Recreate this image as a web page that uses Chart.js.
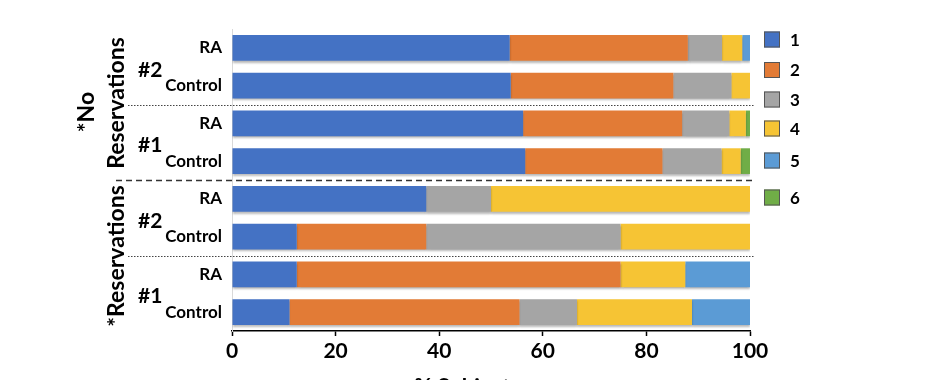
<!DOCTYPE html>
<html>
<head>
<meta charset="utf-8">
<script src="https://cdn.jsdelivr.net/npm/chart.js@4"></script>
<style>
html,body{margin:0;padding:0;background:#fff;overflow:hidden;}
#c{display:block;}
</style>
</head>
<body>
<canvas id="c" width="940" height="400"></canvas>
<script>
// ---- data ----
const categories = ['RA','Control','RA','Control','RA','Control','RA','Control'];
const groupLabels = ['#2','#1','#2','#1'];
const sectionLabels = [['*No','Reservations'],['*Reservations']];
const seriesNames = ['1','2','3','4','5','6'];
const s1 = [53.6, 53.8, 56.2, 56.6, 37.5, 12.5, 12.5, 11.1];
const s2 = [34.4, 31.4, 30.7, 26.5, 0, 25, 62.5, 44.4];
const s3 = [6.6, 11.2, 9.1, 11.4, 12.5, 37.5, 0, 11.1];
const s4 = [3.9, 3.6, 3.2, 3.7, 50, 25, 12.5, 22.2];
const s5 = [1.5, 0, 0, 0, 0, 0, 12.5, 11.2];
const s6 = [0, 0, 0.8, 1.8, 0, 0, 0, 0];
const xTicks = [0, 20, 40, 60, 80, 100];
const xTitle = '% Subjects';

const colors = ['#4472C4','#E27B36','#A5A5A5','#F6C434','#5B9BD5','#70AD47'];
const seriesData = [s1,s2,s3,s4,s5,s6];
const FONT = 'Lato, "Open Sans", sans-serif';

const decor = {
  id: 'decor',
  beforeDatasetsDraw(chart) {
    const ctx = chart.ctx;
    ctx.save();
    ctx.shadowColor = 'rgba(0,0,0,0.28)';
    ctx.shadowOffsetX = 0;
    ctx.shadowOffsetY = 2;
    ctx.shadowBlur = 2;
  },
  afterDatasetsDraw(chart) {
    chart.ctx.restore();
  },
  afterDraw(chart) {
    const ctx = chart.ctx;
    const y = chart.scales.y;
    const area = chart.chartArea;
    ctx.save();
    ctx.fillStyle = '#000';
    // category labels
    ctx.font = 'bold 17px ' + FONT;
    ctx.textAlign = 'right';
    ctx.textBaseline = 'middle';
    categories.forEach((c, i) => {
      ctx.fillText(c, area.left - 10, y.getPixelForValue(i));
    });
    // group labels
    ctx.font = 'bold 21px ' + FONT;
    ctx.textAlign = 'left';
    groupLabels.forEach((g, k) => {
      const yc = (y.getPixelForValue(2*k) + y.getPixelForValue(2*k+1)) / 2 + 3;
      ctx.fillText(g, 138, yc);
    });
    // separators
    const mid = (a) => (y.getPixelForValue(a) + y.getPixelForValue(a+1)) / 2;
    ctx.strokeStyle = '#444';
    ctx.lineWidth = 1.2;
    ctx.setLineDash([1.5, 1.5]);
    [1, 5].forEach(a => {
      const yy = Math.round(mid(a)) + 0.5;
      ctx.beginPath(); ctx.moveTo(128, yy); ctx.lineTo(755, yy); ctx.stroke();
    });
    ctx.strokeStyle = '#333';
    ctx.lineWidth = 1.5;
    ctx.setLineDash([6, 4]);
    {
      const yy = Math.round(mid(3)) + 0.5;
      ctx.beginPath(); ctx.moveTo(116, yy); ctx.lineTo(753, yy); ctx.stroke();
    }
    ctx.setLineDash([]);
    // rotated section labels
    ctx.font = 'bold 23px ' + FONT;
    ctx.textAlign = 'center';
    ctx.textBaseline = 'middle';
    const rot = (t, x, yy) => {
      ctx.save(); ctx.translate(x, yy); ctx.rotate(-Math.PI/2); ctx.fillText(t, 0, 0); ctx.restore();
    };
    rot(sectionLabels[0][0], 87, 112);
    rot(sectionLabels[0][1], 117, 103);
    rot(sectionLabels[1][0], 117, 256);
    // legend
    const ly = [39.5, 70, 99.5, 128.5, 160.5, 197.5];
    chart.data.datasets.forEach((ds, i) => {
      ctx.fillStyle = ds.backgroundColor;
      ctx.fillRect(764, ly[i] - 8, 16, 16);
      ctx.strokeStyle = '#555';
      ctx.lineWidth = 1;
      ctx.strokeRect(764.5, ly[i] - 7.5, 15, 15);
      ctx.fillStyle = '#000';
      ctx.font = 'bold 17px ' + FONT;
      ctx.textAlign = 'left';
      ctx.fillText(ds.label, 790, ly[i] + 1);
    });
    // x axis title (mostly cut off by window)
    ctx.font = 'bold 22px ' + FONT;
    ctx.textAlign = 'center';
    ctx.textBaseline = 'top';
    ctx.fillText(xTitle, 467, 377);
    ctx.restore();
  }
};

new Chart(document.getElementById('c'), {
  type: 'bar',
  data: {
    labels: categories,
    datasets: seriesData.map((d, i) => ({
      label: seriesNames[i],
      data: d,
      backgroundColor: colors[i],
      borderWidth: 0,
      categoryPercentage: 1,
      barPercentage: 0.68
    }))
  },
  options: {
    indexAxis: 'y',
    responsive: false,
    animation: false,
    devicePixelRatio: 1,
    layout: { padding: { left: 232, right: 190, top: 29, bottom: 0 } },
    plugins: { legend: { display: false }, tooltip: { enabled: false } },
    scales: {
      x: {
        stacked: true,
        min: 0, max: 100,
        afterBuildTicks: (s) => { s.ticks = xTicks.map(v => ({ value: v })); },
        afterFit: (s) => { s.height = 69; },
        ticks: { color: '#000', font: { family: FONT, size: 21, weight: 'bold' }, padding: 3, maxRotation: 0 },
        grid: { drawOnChartArea: false, drawTicks: true, tickLength: 5, color: '#000', tickColor: '#000', tickWidth: 1.5 },
        border: { color: '#000', width: 1.5 }
      },
      y: {
        stacked: true,
        afterFit: (s) => { s.width = 0; },
        ticks: { display: false },
        grid: { display: false, drawTicks: false },
        border: { color: '#d9d9d9', width: 1 }
      }
    }
  },
  plugins: [decor]
});
</script>
</body>
</html>
